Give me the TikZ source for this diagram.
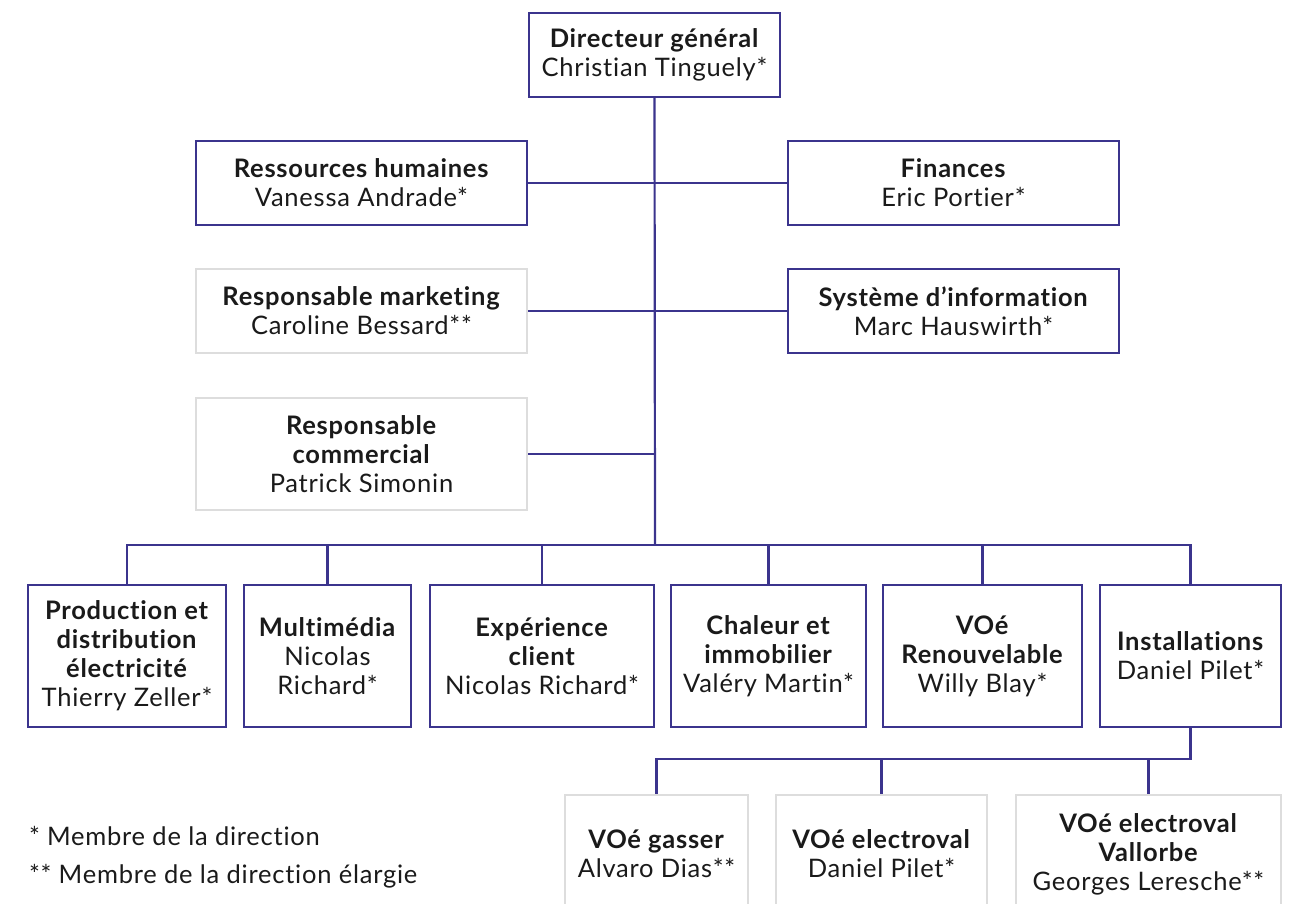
\documentclass[tikz,border=0pt]{standalone}
\usepackage{fontspec}
\setmainfont{Lato}[Ligatures={NoCommon}, LetterSpace=3]
\definecolor{indigo}{RGB}{59,52,141}
\definecolor{grisclair}{RGB}{221,221,221}
\definecolor{encre}{RGB}{26,26,26}

\tikzset{every picture/.style={line width=2pt}}
\tikzset{
	boite/.style={draw=indigo, line width=2.4pt, fill=white, inner sep=0pt, align=center, text=encre, font=\fontsize{25.5}{29}\selectfont},
	boitegrise/.style={boite, draw=grisclair},
	lien/.style={draw=indigo, line width=2.2pt},
	note/.style={anchor=west, inner sep=0pt, text=encre, font=\fontsize{25.5}{29}\selectfont}
}

\begin{document}
\begin{tikzpicture}[x=1pt,y=1pt,yscale=-1]
		\useasboundingbox (0,0) rectangle (1290,903);
		\clip (0,0) rectangle (1290,903);
		
		%Direction
		\node [boite, minimum width=251pt, minimum height=84pt] (dg) at (654.5,55) {\textbf{Directeur général}\\Christian Tinguely*};
		%Etat-major
		\node [boite, minimum width=331pt, minimum height=84pt] (rh) at (361.5,183) {\textbf{Ressources humaines}\\Vanessa Andrade*};
		\node [boite, minimum width=331pt, minimum height=84pt] (fin) at (953.5,183) {\textbf{Finances}\\Eric Portier*};
		\node [boitegrise, minimum width=331pt, minimum height=84pt] (mkt) at (361.5,311) {\textbf{Responsable marketing}\\Caroline Bessard**};
		\node [boite, minimum width=331pt, minimum height=84pt] (si) at (953.5,311) {\textbf{Système d’information}\\Marc Hauswirth*};
		\node [boitegrise, minimum width=331pt, minimum height=112pt] (com) at (361.5,454) {\textbf{Responsable}\\\textbf{commercial}\\Patrick Simonin};
		
		%Divisions
		\node [boite, minimum width=198pt, minimum height=142pt] (prod) at (127,656) {\textbf{Production et}\\\textbf{distribution}\\\textbf{électricité}\\Thierry Zeller*};
		\node [boite, minimum width=167pt, minimum height=142pt] (multi) at (327.5,656) {\textbf{Multimédia}\\Nicolas\\Richard*};
		\node [boite, minimum width=224pt, minimum height=142pt] (exp) at (542,656) {\textbf{Expérience}\\\textbf{client}\\Nicolas Richard*};
		\node [boite, minimum width=195pt, minimum height=142pt] (chal) at (768.5,656) {\textbf{Chaleur et}\\\textbf{immobilier}\\Valéry Martin*};
		\node [boite, minimum width=199pt, minimum height=142pt] (ren) at (982.5,656) {\textbf{VOé}\\\textbf{Renouvelable}\\Willy Blay*};
		\node [boite, minimum width=181pt, minimum height=142pt] (inst) at (1190.5,656) {\textbf{Installations}\\Daniel Pilet*};
		
		%Filiales
		\node [boitegrise, minimum width=183pt, minimum height=118pt] (gas) at (656.5,854) {\textbf{VOé gasser}\\Alvaro Dias**};
		\node [boitegrise, minimum width=211pt, minimum height=118pt] (elec) at (881.5,854) {\textbf{VOé electroval}\\Daniel Pilet*};
		\node [boitegrise, minimum width=265pt, minimum height=118pt] (vall) at (1148.5,854) {\textbf{VOé electroval}\\\textbf{Vallorbe}\\Georges Leresche**};
		
		%Bus
		\coordinate (bus) at (655,545);
		\coordinate (sousbus) at (1190.5,759);
		
		%Liens
		\draw [lien] (dg.south) -- (bus);
		\draw [lien] (rh.east) -- (fin.west);
		\draw [lien] (mkt.east) -- (si.west);
		\draw [lien] (com.east) -- (com.east -| bus);
		\draw [lien] (prod.north) |- (bus) -| (inst.north);
		\foreach \d in {multi,exp,chal,ren}
			\draw [lien] (\d.north) -- (\d.north |- bus);
		\draw [lien] (inst.south) -- (sousbus) -| (gas.north);
		\foreach \f in {elec,vall}
			\draw [lien] (\f.north) -- (\f.north |- sousbus);
		
		% Text Node
		\node [note] (note1) at (28,836) {* Membre de la direction};
		% Text Node
		\node [note] (note2) at (28,876) {** Membre de la direction élargie};
\end{tikzpicture}
\end{document}
